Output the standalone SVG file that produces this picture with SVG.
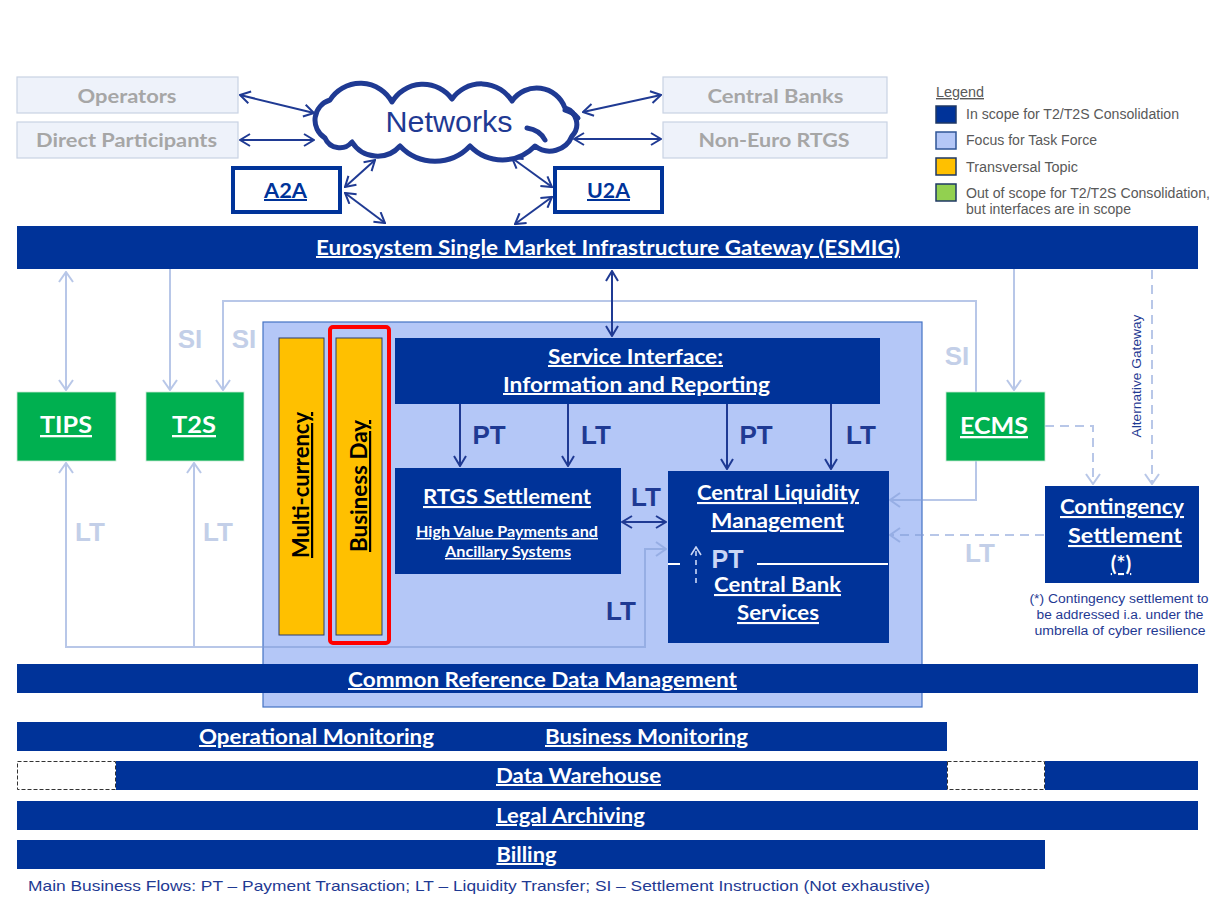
<svg xmlns="http://www.w3.org/2000/svg" width="1215" height="901" viewBox="0 0 1215 901">
<style>
.nav{fill:#003399}
.w{font-family:Lato,'Liberation Sans',sans-serif;font-weight:700;fill:#fff;text-decoration:underline;text-anchor:middle}
.g{font-family:Lato,'Liberation Sans',sans-serif;font-weight:700;fill:#a6a6a6;font-size:19px;text-anchor:middle}
.gbox{fill:#eef2fa;stroke:#c9d2e3;stroke-width:1.2}
.grn{fill:#00b050;stroke:#c9e8d3;stroke-width:0.8}
.nl{font-family:'Liberation Sans',Arial,sans-serif;font-weight:700;fill:#1f3a93;font-size:26px;text-anchor:middle}
.ll{font-family:'Liberation Sans',Arial,sans-serif;font-weight:700;fill:#c3cfe8;font-size:26px;text-anchor:middle}
.leg{font-family:'Liberation Sans',Arial,sans-serif;fill:#595959;font-size:14px}
.cn{fill:none;stroke:#1f3a93;stroke-width:2}
.lc{fill:none;stroke:#7f9ad6;stroke-width:2}
.dsh{stroke-dasharray:9,6}
.orange{fill:#ffc000;stroke:#2a3d6e;stroke-width:1}
.vt{font-family:Lato,'Liberation Sans',sans-serif;font-weight:700;fill:#000;font-size:22px;text-decoration:underline;text-anchor:middle}
.note{font-family:'Liberation Sans',Arial,sans-serif;fill:#1f3a93;font-size:12.5px;text-anchor:middle}
</style>
<defs>
<marker id="an" viewBox="0 0 12 14" refX="11" refY="7" markerWidth="12" markerHeight="14" markerUnits="userSpaceOnUse" orient="auto-start-reverse">
<path d="M1,1 L11,7 L1,13" fill="none" stroke="#1f3a93" stroke-width="2"/>
</marker>
<marker id="al" viewBox="0 0 12 16" refX="11" refY="8" markerWidth="12" markerHeight="16" markerUnits="userSpaceOnUse" orient="auto-start-reverse">
<path d="M1,1 L11,8 L1,15" fill="none" stroke="#7f9ad6" stroke-width="2"/>
</marker>
<marker id="aw" viewBox="0 0 10 12" refX="9" refY="6" markerWidth="10" markerHeight="12" markerUnits="userSpaceOnUse" orient="auto-start-reverse">
<path d="M1,1 L9,6 L1,11" fill="none" stroke="#c9d6f5" stroke-width="1.6"/>
</marker>
</defs>
<rect width="1215" height="901" fill="#fff"/>

<!-- region -->
<g id="task-force-region">
<rect x="263" y="322" width="659" height="385" fill="#b4c7f7" stroke="#4472c4" stroke-width="1.2"/>
</g>

<!-- connectors -->
<g id="connectors">
<g opacity="0.55">
<path class="lc" d="M66,272 L66,390" marker-start="url(#al)" marker-end="url(#al)"/>
<path class="lc" d="M170,269 L170,390" marker-end="url(#al)"/>
<path class="lc" d="M223,390 L223,301 L976,301 L976,500 L890,500" marker-start="url(#al)" marker-end="url(#al)"/>
<path class="lc" d="M1014,269 L1014,390" marker-end="url(#al)"/>
<path class="lc" d="M66,463 L66,647 L645,647 L645,549 L666,549" marker-start="url(#al)" marker-end="url(#al)"/>
<path class="lc" d="M194,463 L194,647" marker-start="url(#al)"/>
<path class="lc dsh" d="M1045,426 L1093,426 L1093,484" marker-end="url(#al)"/>
<path class="lc dsh" d="M1152,270 L1152,484" marker-end="url(#al)"/>
<path class="lc dsh" d="M1044,535 L890,535" marker-end="url(#al)"/>
</g>
<path class="cn" d="M240,95 L314,113" marker-start="url(#an)" marker-end="url(#an)"/>
<path class="cn" d="M240,140 L314,140" marker-start="url(#an)" marker-end="url(#an)"/>
<path class="cn" d="M583,112 L661,95" marker-start="url(#an)" marker-end="url(#an)"/>
<path class="cn" d="M574,139 L661,139" marker-start="url(#an)" marker-end="url(#an)"/>
<path class="cn" d="M375,160 L345,187" marker-start="url(#an)" marker-end="url(#an)"/>
<path class="cn" d="M345,193 L385,223" marker-start="url(#an)" marker-end="url(#an)"/>
<path class="cn" d="M512,158 L552,187" marker-start="url(#an)" marker-end="url(#an)"/>
<path class="cn" d="M552,197 L515,224" marker-start="url(#an)" marker-end="url(#an)"/>
<path class="cn" d="M612,271 L612,336" marker-start="url(#an)" marker-end="url(#an)"/>
<path class="cn" d="M460,404 L460,466" marker-end="url(#an)"/>
<path class="cn" d="M568,404 L568,466" marker-end="url(#an)"/>
<path class="cn" d="M727,404 L727,469" marker-end="url(#an)"/>
<path class="cn" d="M831,404 L831,469" marker-end="url(#an)"/>
<path class="cn" d="M622,522 L666,522" marker-start="url(#an)" marker-end="url(#an)"/>
<text class="nl" x="489" y="444">PT</text>
<text class="nl" x="596" y="444">LT</text>
<text class="nl" x="756" y="444">PT</text>
<text class="nl" x="861" y="444">LT</text>
<text class="nl" x="646" y="506">LT</text>
<text class="nl" x="621" y="620">LT</text>
<text class="ll" x="190" y="348">SI</text>
<text class="ll" x="244" y="348">SI</text>
<text class="ll" x="957" y="365">SI</text>
<text class="ll" x="90" y="541">LT</text>
<text class="ll" x="218" y="541">LT</text>
<text class="ll" x="980" y="562">LT</text>
<text font-family="'Liberation Sans',Arial,sans-serif" font-size="12" fill="#1f3a93" text-anchor="middle" transform="translate(1141,376) rotate(-90)" textLength="123" lengthAdjust="spacingAndGlyphs">Alternative Gateway</text>
</g>

<!-- top boxes -->
<g id="operators"><rect class="gbox" x="17" y="77" width="221" height="36"/><text class="g" x="127" y="103" textLength="99" lengthAdjust="spacingAndGlyphs">Operators</text></g>
<g id="direct-participants"><rect class="gbox" x="17" y="122" width="221" height="36"/><text class="g" x="126.5" y="147" textLength="181" lengthAdjust="spacingAndGlyphs">Direct Participants</text></g>
<g id="central-banks"><rect class="gbox" x="663" y="77" width="224" height="36"/><text class="g" x="775.5" y="103" textLength="136" lengthAdjust="spacingAndGlyphs">Central Banks</text></g>
<g id="non-euro-rtgs"><rect class="gbox" x="663" y="122" width="224" height="36"/><text class="g" x="774" y="147" textLength="151" lengthAdjust="spacingAndGlyphs">Non-Euro RTGS</text></g>

<g id="networks">
<path d="M325,138 A21,21 0 0 1 330,100 A36,36 0 0 1 392,102 A36,36 0 0 1 452,99 A36,36 0 0 1 512,101 A30,30 0 0 1 565,108 A17,17 0 0 1 572,136 A24,24 0 0 1 535,146 A45,45 0 0 1 470,146 A48,48 0 0 1 400,146 A30,30 0 0 1 352,142 A16,16 0 0 1 325,138 Z" fill="#fff" stroke="#1f3a93" stroke-width="5" stroke-linejoin="round"/>
<path d="M527,128 Q540,130 545,140 M565,110 Q573,112 578,118" fill="none" stroke="#1f3a93" stroke-width="5" stroke-linecap="round"/>
<text x="449" y="132" font-family="'Liberation Sans',Arial,sans-serif" font-size="29" fill="#1f3a93" text-anchor="middle" textLength="127" lengthAdjust="spacingAndGlyphs">Networks</text>
</g>

<g id="a2a"><rect x="233" y="168" width="107" height="44" fill="#fff" stroke="#003399" stroke-width="4"/><text class="w" x="285.5" y="198" font-size="20" fill="#003399" style="fill:#003399" textLength="43" lengthAdjust="spacingAndGlyphs">A2A</text></g>
<g id="u2a"><rect x="555" y="168" width="107" height="44" fill="#fff" stroke="#003399" stroke-width="4"/><text class="w" x="608.5" y="198" font-size="20" style="fill:#003399" textLength="43" lengthAdjust="spacingAndGlyphs">U2A</text></g>

<!-- legend -->
<g id="legend">
<text class="leg" x="936" y="97" text-decoration="underline" textLength="48" lengthAdjust="spacingAndGlyphs">Legend</text>
<rect x="936" y="106" width="20" height="17" fill="#003399" stroke="#1f3864" stroke-width="1.5"/>
<rect x="936" y="132" width="20" height="17" fill="#b4c7f7" stroke="#2f5597" stroke-width="1.5"/>
<rect x="936" y="158" width="20" height="17" fill="#ffc000" stroke="#1f3864" stroke-width="1.5"/>
<rect x="936" y="184" width="20" height="17" fill="#92d050" stroke="#1f3864" stroke-width="1.5"/>
<text class="leg" x="966" y="119" textLength="213" lengthAdjust="spacingAndGlyphs">In scope for T2/T2S Consolidation</text>
<text class="leg" x="966" y="145" textLength="131" lengthAdjust="spacingAndGlyphs">Focus for Task Force</text>
<text class="leg" x="966" y="172" textLength="112" lengthAdjust="spacingAndGlyphs">Transversal Topic</text>
<text class="leg" x="966" y="198" textLength="244" lengthAdjust="spacingAndGlyphs">Out of scope for T2/T2S Consolidation,</text>
<text class="leg" x="966" y="214" textLength="165" lengthAdjust="spacingAndGlyphs">but interfaces are in scope</text>
</g>

<g id="esmig"><rect class="nav" x="17" y="226" width="1181" height="43"/><text class="w" x="608" y="255" font-size="20" textLength="584" lengthAdjust="spacingAndGlyphs">Eurosystem Single Market Infrastructure Gateway (ESMIG)</text></g>

<g id="tips"><rect class="grn" x="17" y="392" width="99" height="69"/><text class="w" x="66" y="433" font-size="23" textLength="52" lengthAdjust="spacingAndGlyphs">TIPS</text></g>
<g id="t2s"><rect class="grn" x="146" y="392" width="98" height="69"/><text class="w" x="194" y="433" font-size="23" textLength="44" lengthAdjust="spacingAndGlyphs">T2S</text></g>
<g id="ecms"><rect class="grn" x="946" y="392" width="99" height="69"/><text class="w" x="994" y="434" font-size="23" textLength="68" lengthAdjust="spacingAndGlyphs">ECMS</text></g>

<g id="multi-currency"><rect class="orange" x="279" y="338" width="45" height="297"/><text class="vt" transform="translate(309,485) rotate(-90)" textLength="146" lengthAdjust="spacingAndGlyphs">Multi-currency</text></g>
<g id="business-day"><rect class="orange" x="336" y="338" width="46" height="297"/><rect x="330" y="327" width="59" height="316" rx="3" fill="none" stroke="#ff0000" stroke-width="4"/><text class="vt" transform="translate(367,486) rotate(-90)" textLength="132" lengthAdjust="spacingAndGlyphs">Business Day</text></g>

<g id="service-interface"><rect class="nav" x="395" y="338" width="485" height="66"/>
<text class="w" x="635.5" y="364" font-size="20" textLength="175" lengthAdjust="spacingAndGlyphs">Service Interface:</text>
<text class="w" x="636.5" y="392" font-size="20" textLength="267" lengthAdjust="spacingAndGlyphs">Information and Reporting</text></g>

<g id="rtgs-settlement"><rect class="nav" x="395" y="468" width="226" height="106"/>
<text class="w" x="507" y="504" font-size="21" textLength="168" lengthAdjust="spacingAndGlyphs">RTGS Settlement</text>
<text class="w" x="507" y="537" font-size="15" textLength="182" lengthAdjust="spacingAndGlyphs">High Value Payments and</text>
<text class="w" x="508" y="557" font-size="15" textLength="126" lengthAdjust="spacingAndGlyphs">Ancillary Systems</text></g>

<g id="central-liquidity-management"><rect class="nav" x="668" y="471" width="221" height="172"/>
<text class="w" x="778" y="500" font-size="21" textLength="162" lengthAdjust="spacingAndGlyphs">Central Liquidity</text>
<text class="w" x="777.5" y="528" font-size="21" textLength="133" lengthAdjust="spacingAndGlyphs">Management</text>
<path d="M668,564 L680,564 M757,564 L888,564" stroke="#fff" stroke-width="2"/>
<text x="727.5" y="568" font-family="'Liberation Sans',Arial,sans-serif" font-weight="700" font-size="25" fill="#c9d6f5" text-anchor="middle">PT</text>
<path d="M696,583 L696,547" fill="none" stroke="#c9d6f5" stroke-width="1.6" stroke-dasharray="5,4" marker-end="url(#aw)"/>
</g>
<g id="central-bank-services">
<text class="w" x="777.5" y="592" font-size="21" textLength="127" lengthAdjust="spacingAndGlyphs">Central Bank</text>
<text class="w" x="778" y="620" font-size="21" textLength="82" lengthAdjust="spacingAndGlyphs">Services</text></g>

<g id="contingency-settlement"><rect class="nav" x="1045" y="486" width="154" height="97"/>
<text class="w" x="1122" y="514" font-size="21" textLength="124" lengthAdjust="spacingAndGlyphs">Contingency</text>
<text class="w" x="1125" y="543" font-size="21" textLength="114" lengthAdjust="spacingAndGlyphs">Settlement</text>
<text class="w" x="1121" y="571" font-size="21">(*)</text>
<text class="note" x="1119" y="603" textLength="179" lengthAdjust="spacingAndGlyphs">(*) Contingency settlement to</text>
<text class="note" x="1120" y="619" textLength="167" lengthAdjust="spacingAndGlyphs">be addressed i.a. under the</text>
<text class="note" x="1120" y="635" textLength="171" lengthAdjust="spacingAndGlyphs">umbrella of cyber resilience</text></g>

<g id="crdm"><rect class="nav" x="17" y="664" width="1181" height="29"/><text class="w" x="542.5" y="687" font-size="20" textLength="389" lengthAdjust="spacingAndGlyphs">Common Reference Data Management</text></g>

<g id="monitoring"><rect class="nav" x="17" y="722" width="930" height="29"/>
<text class="w" x="316.5" y="744" font-size="20" textLength="235" lengthAdjust="spacingAndGlyphs">Operational Monitoring</text>
<text class="w" x="646.5" y="744" font-size="20" textLength="203" lengthAdjust="spacingAndGlyphs">Business Monitoring</text></g>

<g id="data-warehouse">
<rect x="17.5" y="761.5" width="98" height="28" fill="#fff" stroke="#333" stroke-width="1" stroke-dasharray="4,2"/>
<rect x="947.5" y="761.5" width="97" height="28" fill="#fff" stroke="#333" stroke-width="1" stroke-dasharray="4,2"/>
<rect class="nav" x="116" y="761" width="831" height="29"/>
<rect class="nav" x="1045" y="761" width="153" height="29"/>
<text class="w" x="578.5" y="783" font-size="20" textLength="165" lengthAdjust="spacingAndGlyphs">Data Warehouse</text></g>

<g id="legal-archiving"><rect class="nav" x="17" y="801" width="1181" height="29"/><text class="w" x="570.5" y="823" font-size="20" textLength="149" lengthAdjust="spacingAndGlyphs">Legal Archiving</text></g>

<g id="billing"><rect class="nav" x="17" y="840" width="1028" height="29"/><text class="w" x="526.5" y="862" font-size="20" textLength="60" lengthAdjust="spacingAndGlyphs">Billing</text></g>

<text x="28" y="891" font-family="'Liberation Sans',Arial,sans-serif" font-size="15" fill="#1f3a93" textLength="902" lengthAdjust="spacingAndGlyphs">Main  Business Flows:  PT – Payment Transaction;  LT – Liquidity Transfer;  SI – Settlement Instruction   (Not exhaustive)</text>
</svg>
